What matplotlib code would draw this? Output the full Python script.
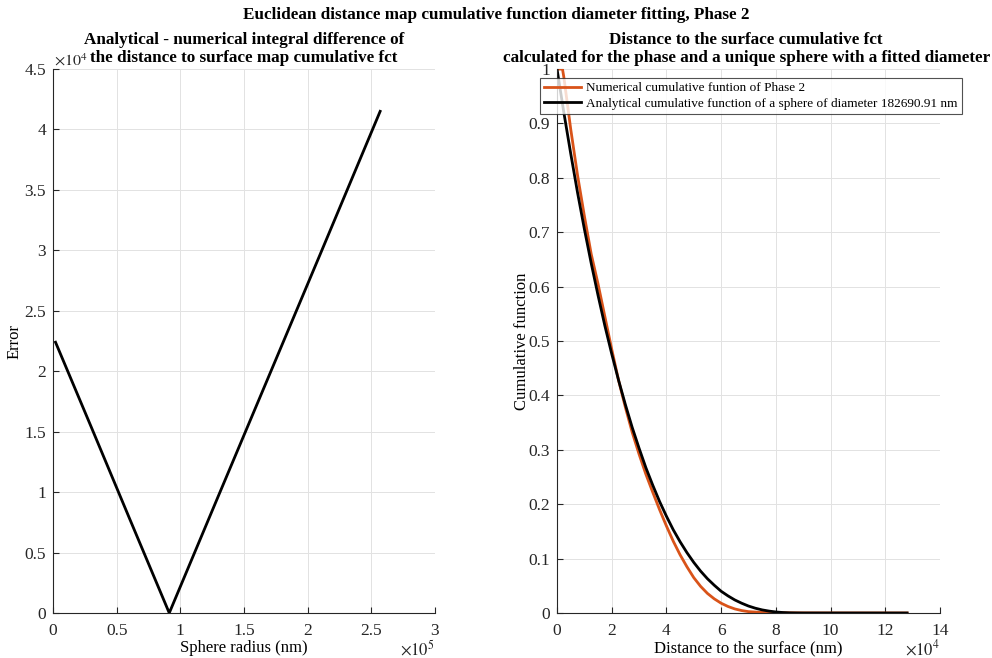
import matplotlib
matplotlib.use('Agg')
import matplotlib.pyplot as plt
from matplotlib.ticker import FuncFormatter

plt.rcParams['font.family'] = ['Liberation Serif', 'DejaVu Serif']
plt.rcParams['font.size'] = 12
plt.rcParams['mathtext.fontset'] = 'stix'

# Left panel: integral difference vs sphere radius
radius_nm = [2000, 30000, 60000, 91345, 130000, 170000, 210000, 257000]
error_vals = [22400, 15400, 7850, 0, 9700, 19700, 29700, 41500]

# Right panel: cumulative functions vs distance to surface
dist_num = [0, 2000, 2500, 5000, 7500, 10000, 12500, 15000, 17500, 20000, 22500,
            25000, 27500, 30000, 32500, 35000, 37500, 40000, 42500, 45000, 47500,
            50000, 52500, 55000, 57500, 60000, 62500, 65000, 67500, 70000, 75000,
            80000, 90000, 100000, 128000]
cum_num = [1.0, 1.0, 0.985, 0.89, 0.805, 0.73, 0.66, 0.605, 0.545, 0.485, 0.428,
           0.378, 0.332, 0.292, 0.255, 0.222, 0.19, 0.16, 0.132, 0.107, 0.085,
           0.065, 0.049, 0.036, 0.026, 0.018, 0.012, 0.0075, 0.0045, 0.0025, 0.001,
           0.0005, 0.0002, 0.0001, 0.0]

dist_ana = [0, 2500, 5000, 7500, 10000, 12500, 15000, 17500, 20000, 22500, 25000,
            27500, 30000, 32500, 35000, 37500, 40000, 42500, 45000, 47500, 50000,
            52500, 55000, 57500, 60000, 62500, 65000, 67500, 70000, 72500, 75000,
            77500, 80000, 82500, 85000, 87500, 90000, 128000]
cum_ana = [1.0, 0.920, 0.845, 0.773, 0.706, 0.643, 0.584, 0.528, 0.4765, 0.428,
           0.383, 0.341, 0.303, 0.267, 0.235, 0.205, 0.178, 0.153, 0.131, 0.111,
           0.093, 0.077, 0.063, 0.051, 0.040, 0.0315, 0.024, 0.018, 0.0128, 0.0088,
           0.0057, 0.0035, 0.0019, 0.0009, 0.0003, 0.0001, 0.0, 0.0]

ORANGE = '#D95319'
AXCOL = '#262626'


def style_axes(ax):
    for side in ['top', 'right']:
        ax.spines[side].set_visible(False)
    for side in ['left', 'bottom']:
        ax.spines[side].set_color(AXCOL)
        ax.spines[side].set_linewidth(0.8)
    ax.tick_params(direction='in', length=4, colors=AXCOL, labelsize=12.5)
    ax.tick_params(axis='x', pad=7)
    ax.tick_params(axis='y', pad=5)
    ax.grid(True, color='#e2e2e2', linewidth=0.7)
    ax.set_axisbelow(True)


fig = plt.figure(figsize=(9.92, 6.58), dpi=100)

ax1 = fig.add_axes([0.0534, 0.0684, 0.385, 0.8267])
ax2 = fig.add_axes([0.5615, 0.0684, 0.386, 0.8267])

# left
ax1.plot(radius_nm, error_vals, color='black', linewidth=2)
ax1.set_xlim(0, 3e5)
ax1.set_ylim(0, 4.5e4)
ax1.set_xticks([i * 0.5e5 for i in range(7)])
ax1.set_yticks([i * 0.5e4 for i in range(10)])
ax1.xaxis.set_major_formatter(FuncFormatter(lambda v, p: '%g' % round(v / 1e5, 2)))
ax1.yaxis.set_major_formatter(FuncFormatter(lambda v, p: '%g' % round(v / 1e4, 2)))
style_axes(ax1)
ax1.set_xlabel('Sphere radius (nm)', fontsize=12, labelpad=1)
ax1.set_ylabel('Error', fontsize=12, labelpad=1)
ax1.set_title('Analytical - numerical integral difference of\nthe distance to surface map cumulative fct',
              fontsize=12.35, fontweight='bold', linespacing=1.15, pad=5)
fig.text(54 / 992, 1 - 61 / 658, r'$\times10^{4}$', fontsize=11.5,
         ha='left', va='center', color=AXCOL)
fig.text(435 / 992, 1 - 649 / 658, r'$\times10^{5}$', fontsize=12,
         ha='right', va='center', color=AXCOL)

# right
ax2.plot(dist_num, cum_num, color=ORANGE, linewidth=2,
         label='Numerical cumulative funtion of Phase 2')
ax2.plot(dist_ana, cum_ana, color='black', linewidth=2,
         label='Analytical cumulative function of a sphere of diameter 182690.91 nm')
ax2.set_xlim(0, 14e4)
ax2.set_ylim(0, 1)
ax2.set_xticks([i * 2e4 for i in range(8)])
ax2.set_yticks([i * 0.1 for i in range(11)])
ax2.xaxis.set_major_formatter(FuncFormatter(lambda v, p: '%g' % round(v / 1e4, 2)))
ax2.yaxis.set_major_formatter(FuncFormatter(lambda v, p: '%g' % round(v, 2)))
style_axes(ax2)
ax2.set_xlabel('Distance to the surface (nm)', fontsize=12, labelpad=1)
ax2.set_ylabel('Cumulative function', fontsize=12, labelpad=-1)
ax2.set_title('Distance to the surface cumulative fct\ncalculated for the phase and a unique sphere with a fitted diameter',
              fontsize=12.3, fontweight='bold', linespacing=1.15, pad=5)
ax2.title.set_x(0.494)
fig.text(940 / 992, 1 - 649 / 658, r'$\times10^{4}$', fontsize=12,
         ha='right', va='center', color=AXCOL)

leg = ax2.legend(loc='upper left', bbox_to_anchor=(540 / 992, 1 - 78 / 658),
                 bbox_transform=fig.transFigure, fontsize=9.5, frameon=True,
                 fancybox=False, borderpad=0.3, labelspacing=0.25,
                 handlelength=2.8, handletextpad=0.4, borderaxespad=0)
leg.get_frame().set_edgecolor('#262626')
leg.get_frame().set_linewidth(0.8)

fig.suptitle('Euclidean distance map cumulative function diameter fitting, Phase 2',
             fontsize=12.3, fontweight='bold', y=0.99)

fig.savefig('out.png', dpi=100)
